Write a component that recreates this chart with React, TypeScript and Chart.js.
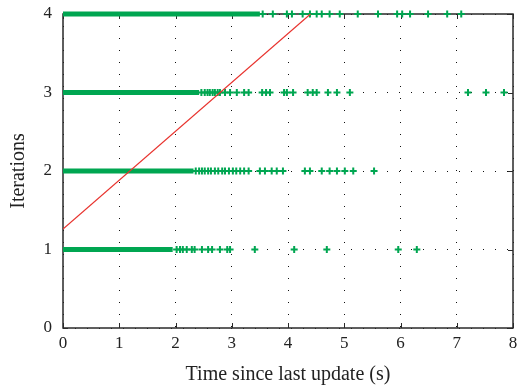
import React, { useEffect, useRef } from "react";
import { Chart, registerables } from "chart.js";

Chart.register(...registerables);

// Iteration levels (y) and dense-cluster extents (x end of solid band, starting at 0)
const levels = [1, 2, 3, 4];
const denseEnd = [1.95, 2.32, 2.42, 3.5];

// Individually visible "+" markers per level (time since last update, s)
const sparse1 = [2.02, 2.08, 2.13, 2.2, 2.29, 2.34, 2.47, 2.58, 2.65, 2.79, 2.92, 2.97, 3.41, 4.11, 4.69, 5.96, 6.29];
const sparse2 = [2.36, 2.42, 2.47, 2.52, 2.58, 2.63, 2.7, 2.76, 2.83, 2.88, 2.95, 3.02, 3.08, 3.15, 3.22, 3.3, 3.5, 3.59, 3.71, 3.8, 3.91, 4.3, 4.39, 4.6, 4.74, 4.87, 5.01, 5.16, 5.53];
const sparse3 = [2.46, 2.52, 2.57, 2.61, 2.66, 2.7, 2.75, 2.79, 2.88, 2.97, 3.09, 3.22, 3.3, 3.54, 3.61, 3.68, 3.93, 3.98, 4.09, 4.35, 4.44, 4.51, 4.71, 4.87, 5.1, 7.2, 7.52, 7.84];
const sparse4 = [3.55, 3.73, 3.98, 4.07, 4.26, 4.39, 4.51, 4.6, 4.74, 4.92, 5.24, 5.6, 5.94, 6.03, 6.17, 6.49, 6.83, 7.08];
const sparseRows = [sparse1, sparse2, sparse3, sparse4];

// Red fitted line endpoints
const fitX = [0, 4.4];
const fitY = [1.26, 4];

const xTicks = [0, 1, 2, 3, 4, 5, 6, 7, 8];
const yTicks = [0, 1, 2, 3, 4];

const GREEN = "#00a651";
const RED = "#e8332e";
const FONT = "'Liberation Serif', 'DejaVu Serif', serif";

const framePlugin = {
  id: "frame",
  beforeDatasetsDraw(chart: any) {
    const { ctx, chartArea } = chart;
    const { left, right, top, bottom } = chartArea;
    const xs = chart.scales.x;
    const ys = chart.scales.y;
    ctx.save();
    ctx.strokeStyle = "#2a2a2a";
    ctx.lineWidth = 1.5;
    ctx.strokeRect(left, top, right - left, bottom - top);
    ctx.lineWidth = 1;
    const tl = 5;
    ctx.beginPath();
    xTicks.forEach((v) => {
      const px = Math.round(xs.getPixelForValue(v)) + 0.5;
      ctx.moveTo(px, bottom);
      ctx.lineTo(px, bottom - tl);
      ctx.moveTo(px, top);
      ctx.lineTo(px, top + tl);
    });
    yTicks.forEach((v) => {
      const py = Math.round(ys.getPixelForValue(v)) + 0.5;
      ctx.moveTo(left, py);
      ctx.lineTo(left + tl, py);
      ctx.moveTo(right, py);
      ctx.lineTo(right - tl, py);
    });
    ctx.stroke();
    ctx.restore();
  },
};

export default function App() {
  const ref = useRef<HTMLCanvasElement | null>(null);
  useEffect(() => {
    document.body.style.margin = "0";
    if (!ref.current) return;
    const datasets: any[] = [];
    levels.forEach((lv, i) => {
      datasets.push({
        type: "line",
        data: [
          { x: 0, y: lv },
          { x: denseEnd[i], y: lv },
        ],
        borderColor: GREEN,
        borderWidth: 5,
        pointRadius: 0,
        clip: false,
        order: 2,
      });
      datasets.push({
        type: "scatter",
        data: sparseRows[i].map((x) => ({ x, y: lv })),
        pointStyle: "cross",
        pointRadius: 3.5,
        borderWidth: 2,
        borderColor: GREEN,
        backgroundColor: GREEN,
        clip: false,
        order: 2,
      });
    });
    datasets.push({
      type: "line",
      data: fitX.map((x, i) => ({ x, y: fitY[i] })),
      borderColor: RED,
      borderWidth: 1.2,
      pointRadius: 0,
      order: 1,
    });

    const chart = new Chart(ref.current, {
      type: "scatter",
      data: { datasets },
      plugins: [framePlugin],
      options: {
        animation: false,
        responsive: false,
        layout: { padding: { top: 14, right: 7, left: 0, bottom: 0 } },
        plugins: { legend: { display: false }, tooltip: { enabled: false } },
        scales: {
          x: {
            type: "linear",
            min: 0,
            max: 8,
            afterBuildTicks: (s: any) => {
              s.ticks = xTicks.map((v) => ({ value: v }));
            },
            afterFit: (s: any) => {
              s.height = 61;
              s.paddingLeft = 0;
              s.paddingRight = 0;
            },
            grid: { color: "#111", lineWidth: 1, drawTicks: false },
            border: { display: false, dash: [1, 11], dashOffset: 0 },
            ticks: {
              color: "#222",
              padding: 5,
              maxRotation: 0,
              font: { family: FONT, size: 17 },
            },
            title: {
              display: true,
              text: "Time since last update (s)",
              color: "#222",
              font: { family: FONT, size: 20 },
              padding: { top: 2, bottom: 2 },
            },
          },
          y: {
            type: "linear",
            min: 0,
            max: 4,
            afterBuildTicks: (s: any) => {
              s.ticks = yTicks.map((v) => ({ value: v }));
            },
            afterFit: (s: any) => {
              s.width = 63;
              s.paddingTop = 0;
              s.paddingBottom = 0;
            },
            grid: { color: "#111", lineWidth: 1, drawTicks: false },
            border: { display: false, dash: [1, 11], dashOffset: 0 },
            ticks: {
              color: "#222",
              padding: 11,
              font: { family: FONT, size: 17 },
            },
            title: {
              display: true,
              text: "Iterations",
              color: "#222",
              font: { family: FONT, size: 20 },
              padding: { top: 7, bottom: 0 },
            },
          },
        },
      },
    });
    return () => chart.destroy();
  }, []);
  return (
    <div style={{ width: 520, height: 389 }}>
      <canvas ref={ref} width={520} height={389} style={{ display: "block" }} />
    </div>
  );
}
